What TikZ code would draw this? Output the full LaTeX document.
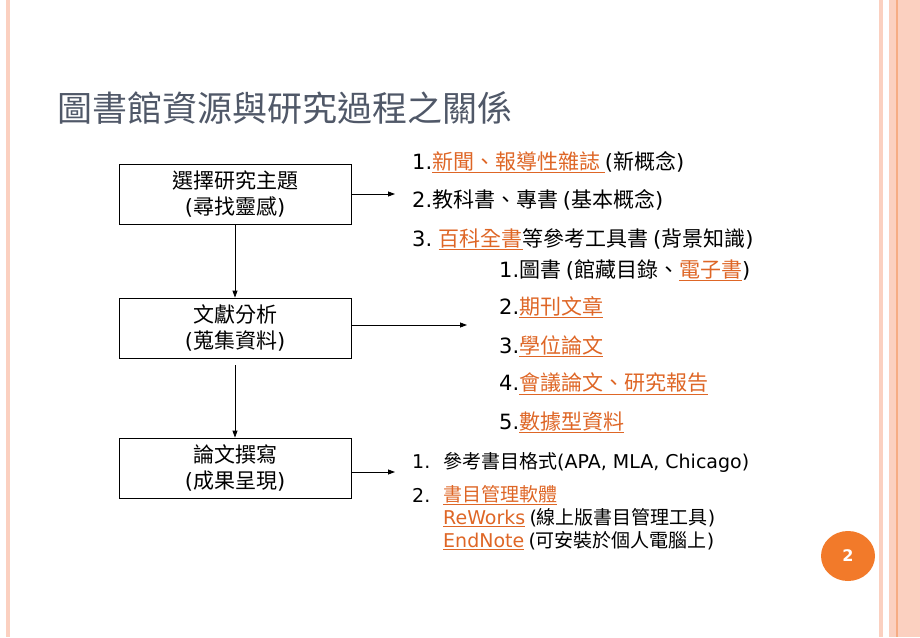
\documentclass[tikz,border=0pt]{standalone}
\usepackage{fontspec}
\setmainfont{Noto Sans CJK TC}
\newfontfamily\lat{DejaVu Sans}
\usetikzlibrary{arrows.meta,shapes.geometric}

\definecolor{linkc}{RGB}{222,102,38}
\definecolor{titlec}{RGB}{80,88,104}
\definecolor{stripec}{RGB}{251,208,192}
\definecolor{stripedk}{RGB}{246,172,132}
\definecolor{badgec}{RGB}{242,122,42}
\newcommand{\lnk}[1]{{\color{linkc}\underline{#1}}}
\newcommand{\paren}[1]{{\lat(}#1{\lat)}}

\tikzset{
  stepbox/.style={draw=black, line width=0.8pt, minimum width=232pt, minimum height=60pt,
    align=center, inner sep=0pt, font=\fontsize{21}{26}\selectfont},
  item/.style={anchor=west, inner sep=0pt, font=\fontsize{21}{24}\selectfont},
  smallitem/.style={anchor=west, inner sep=0pt, font=\fontsize{19}{22}\selectfont},
  flow/.style={line width=0.8pt, -{Triangle[length=7pt,width=5pt]}}
}

\begin{document}
\begin{tikzpicture}[x=1pt,y=-1pt]
    \useasboundingbox (0,0) rectangle (920,637);
    % side stripes
    \fill[stripec] (6,0) rectangle (10,637);
    \fill[stripec] (879,0) rectangle (883,637);
    \fill[stripec] (889,0) rectangle (920,637);
    \fill[stripedk] (896,0) rectangle (898,637);
    % title
    \node[anchor=west, inner sep=0pt, text=titlec, font=\fontsize{35}{40}\selectfont] (title) at (57,108) {圖書館資源與研究過程之關係};
    % steps
    \node[stepbox] (B1) at (235,194) {選擇研究主題\\\paren{尋找靈感}};
    \node[stepbox] (B2) at (235,328) {文獻分析\\\paren{蒐集資料}};
    \node[stepbox] (B3) at (235,468) {論文撰寫\\\paren{成果呈現}};
    \draw[flow] (B1) -- (B2);
    \draw[flow, shorten <=7pt] (B2) -- (B3);
    \coordinate (A1) at (395,194);
    \coordinate (A2) at (467,325);
    \coordinate (A3) at (395,472);
    \draw[flow] (B1.east) -- (A1);
    \draw[flow] (B2.east |- A2) -- (A2);
    \draw[flow] (B3.east |- A3) -- (A3);
    % sources
    \node[item] (L1) at (412,162) {{\lat 1.}\lnk{新聞、報導性雜誌 }\paren{新概念}};
    \node[item] (L2) at (412,200) {{\lat 2.}教科書、專書 \paren{基本概念}};
    \node[item] (L3) at (412,239) {{\lat 3.} \lnk{百科全書}等參考工具書 \paren{背景知識}};
    \node[item] (S1) at (499,270) {{\lat 1.}圖書 \paren{館藏目錄、\lnk{電子書}}};
    \node[item] (S2) at (499,307) {{\lat 2.}\lnk{期刊文章}};
    \node[item] (S3) at (499,346) {{\lat 3.}\lnk{學位論文}};
    \node[item] (S4) at (499,384) {{\lat 4.}\lnk{會議論文、研究報告}};
    \node[item] (S5) at (499,422) {{\lat 5.}\lnk{數據型資料}};
    % writing
    \node[smallitem] (W1) at (412,462) {{\lat 1.}};
    \node[smallitem] (W1t) at (443,462) {參考書目格式{\lat(APA, MLA, Chicago)}};
    \node[smallitem] (W2) at (412,495) {{\lat 2.}};
    \node[smallitem] (W2t) at (443,495) {\lnk{書目管理軟體}};
    \node[smallitem] (W3) at (443,518) {\lnk{\lat ReWorks} \paren{線上版書目管理工具}};
    \node[smallitem] (W4) at (443,541) {\lnk{\lat EndNote} \paren{可安裝於個人電腦上}};
    % page number
    \node[ellipse, fill=badgec, minimum width=54pt, minimum height=50pt, inner sep=0pt,
      text=white, font=\lat\bfseries\fontsize{16}{16}\selectfont] (page) at (848,556) {2};
\end{tikzpicture}
\end{document}
